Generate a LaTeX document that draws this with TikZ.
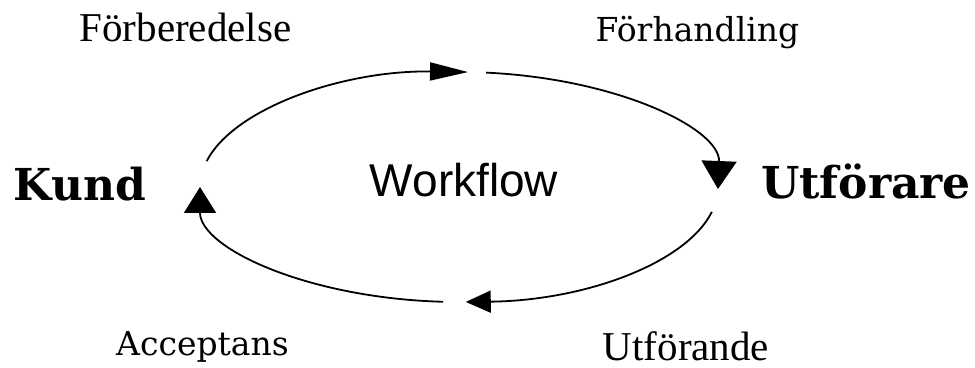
\documentclass[tikz,border=0pt]{standalone}
\usepackage{fontspec}
\setmainfont{Liberation Serif}
\newfontfamily\wideserif{DejaVu Serif}
\newfontfamily\plainsans{Liberation Sans}
\usetikzlibrary{arrows.meta,calc}

\begin{document}
\begin{tikzpicture}[x=1pt,y=1pt,
  phase/.style={anchor=base,inner sep=0pt,font=\fontsize{41}{41}\selectfont},
  widephase/.style={anchor=base,inner sep=0pt,font=\wideserif\fontsize{33}{33}\selectfont},
  party/.style={anchor=base,inner sep=0pt,font=\wideserif\bfseries\fontsize{44}{44}\selectfont},
  title/.style={anchor=base,inner sep=0pt,font=\plainsans\fontsize{46}{46}\selectfont},
  flow/.style={line width=1.8pt,black}
]
\useasboundingbox (0,0) rectangle (975,367);

% labels
\node[phase]     (prep)   at (185.5,325) {Förberedelse};
\node[widephase] (neg)    at (697.5,325) {Förhandling};
\node[party]     (kund)   at (80,166)    {Kund};
\node[party]     (utf)    at (866,168)   {Utförare};
\node[title]     (wf)     at (464,170)   {Workflow};
\node[widephase] (acc)    at (202.5,12)  {Acceptans};
\node[phase]     (exec)   at (686,7)     {Utförande};

% the cycle: four clockwise arcs of one ellipse
\coordinate (C) at (459,180);
\coordinate (a1) at ($(C)+(167:259 and 115)$);
\coordinate (a2) at ($(C)+(84:259 and 115)$);
\coordinate (a3) at ($(C)+(-12.5:259 and 115)$);
\coordinate (a4) at ($(C)+(266.5:259 and 115)$);

\draw[flow,-{Triangle[length=38pt,width=18pt]}]
  (a1) arc[start angle=167,end angle=88,x radius=259,y radius=115];
\draw[flow,-{Triangle[length=28pt,width=35pt]}]
  (a2) arc[start angle=84,end angle=-1,x radius=259,y radius=115];
\draw[flow,-{Triangle[length=25pt,width=22pt]}]
  (a3) arc[start angle=-12.5,end angle=-88.5,x radius=259,y radius=115];
\draw[flow,-{Triangle[length=26pt,width=32pt]}]
  (a4) arc[start angle=266.5,end angle=180,x radius=259,y radius=115];
\end{tikzpicture}
\end{document}
